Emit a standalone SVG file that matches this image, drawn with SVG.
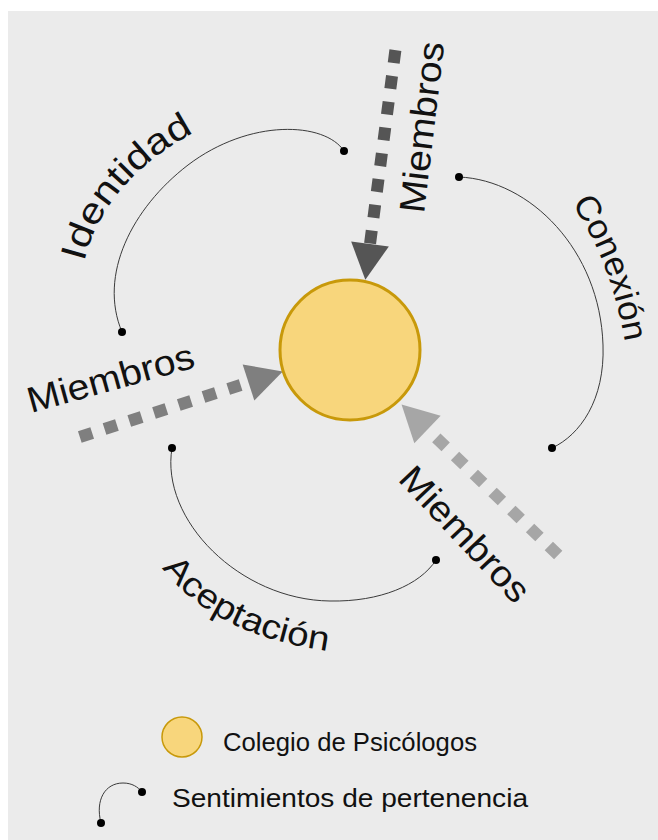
<svg xmlns="http://www.w3.org/2000/svg" width="658" height="840" viewBox="0 0 658 840">
<style>
.bg{fill:#ebebeb}
.arc{fill:none;stroke:#3a3a3a;stroke-width:1}
.dot{fill:#000}
.flow{fill:none;stroke-width:12;stroke-dasharray:13 13}
.lbl{font-family:"Liberation Sans",Arial,sans-serif;fill:#111}
.big{font-size:36px}
.leg{font-size:26px}
</style>
<defs>
<marker id="headDark" markerUnits="userSpaceOnUse" markerWidth="36" markerHeight="38" refX="0" refY="19" orient="auto" overflow="visible"><path d="M0,0 L36,19 L0,38 Z" fill="#555555"/></marker>
<marker id="headMid" markerUnits="userSpaceOnUse" markerWidth="36" markerHeight="38" refX="0" refY="19" orient="auto" overflow="visible"><path d="M0,0 L36,19 L0,38 Z" fill="#7f7f7f"/></marker>
<marker id="headLight" markerUnits="userSpaceOnUse" markerWidth="36" markerHeight="38" refX="0" refY="19" orient="auto" overflow="visible"><path d="M0,0 L36,19 L0,38 Z" fill="#a6a6a6"/></marker>
<path id="pIdentidad" d="M84,262 C98,205 140,158 207,126"/>
<path id="pConexion" d="M572,203 C590,232 612,270 625,342"/>
<path id="pAceptacion" d="M162,568 C195,610 245,640 334,652"/>
</defs>
<rect x="0" y="0" width="658" height="840" fill="#ffffff"/>
<rect class="bg" x="8" y="11" width="650" height="829"/>

<g id="connectors">
  <g id="flow-top">
    <path class="flow" d="M395.4,50.1 L370,244" stroke="#555555" marker-end="url(#headDark)"/>
  </g>
  <g id="flow-left">
    <path class="flow" d="M79.8,437 L248.5,382.5" stroke="#7f7f7f" marker-end="url(#headMid)"/>
  </g>
  <g id="flow-right">
    <path class="flow" d="M558.2,555 L427.5,429.5" stroke="#a6a6a6" marker-end="url(#headLight)"/>
  </g>
  <g id="arc-identidad">
    <path class="arc" d="M344,151 C325,122 250,118 188,165 C132,208 98,275 122,332"/>
    <circle class="dot" cx="344" cy="151" r="4"/>
    <circle class="dot" cx="122" cy="332" r="4"/>
  </g>
  <g id="arc-conexion">
    <path class="arc" d="M459,177 C530,180 600,250 603,345 C605,400 580,435 552,448"/>
    <circle class="dot" cx="459" cy="177" r="4"/>
    <circle class="dot" cx="552" cy="448" r="4"/>
  </g>
  <g id="arc-aceptacion">
    <path class="arc" d="M172,448 C160,520 240,600 330,601 C380,602 420,585 436,560"/>
    <circle class="dot" cx="172" cy="448" r="4"/>
    <circle class="dot" cx="436" cy="560" r="4"/>
  </g>
</g>

<g id="colegio">
  <circle cx="350" cy="350" r="70" fill="#f8d67c" stroke="#c8990a" stroke-width="3"/>
</g>

<g id="labels" class="lbl big">
  <text id="lbl-miembros-top" transform="translate(424,214) rotate(-83.2)" textLength="172" lengthAdjust="spacingAndGlyphs">Miembros</text>
  <text id="lbl-miembros-left" transform="translate(31,413) rotate(-15.5)" textLength="172" lengthAdjust="spacingAndGlyphs">Miembros</text>
  <text id="lbl-miembros-right" transform="translate(397,480) rotate(46.7)" textLength="172" lengthAdjust="spacingAndGlyphs">Miembros</text>
  <text id="lbl-identidad"><textPath href="#pIdentidad" textLength="175" lengthAdjust="spacingAndGlyphs">Identidad</textPath></text>
  <text id="lbl-conexion" style="font-size:34px"><textPath href="#pConexion" textLength="150" lengthAdjust="spacingAndGlyphs">Conexión</textPath></text>
  <text id="lbl-aceptacion" style="font-size:34px"><textPath href="#pAceptacion" textLength="190" lengthAdjust="spacingAndGlyphs">Aceptación</textPath></text>
</g>

<g id="legend">
  <g id="legend-colegio">
    <circle cx="182" cy="737" r="20" fill="#f8d67c" stroke="#c8990a" stroke-width="1.5"/>
    <text class="lbl leg" x="223" y="751" textLength="254" lengthAdjust="spacingAndGlyphs">Colegio de Psicólogos</text>
  </g>
  <g id="legend-sentimientos">
    <path class="arc" d="M101,823 C95,800 105,783 123,783 C132,783 138,787 142,792"/>
    <circle class="dot" cx="101" cy="823" r="4"/>
    <circle class="dot" cx="142" cy="792" r="4"/>
    <text class="lbl leg" x="172" y="807" textLength="356" lengthAdjust="spacingAndGlyphs">Sentimientos de pertenencia</text>
  </g>
</g>
</svg>
